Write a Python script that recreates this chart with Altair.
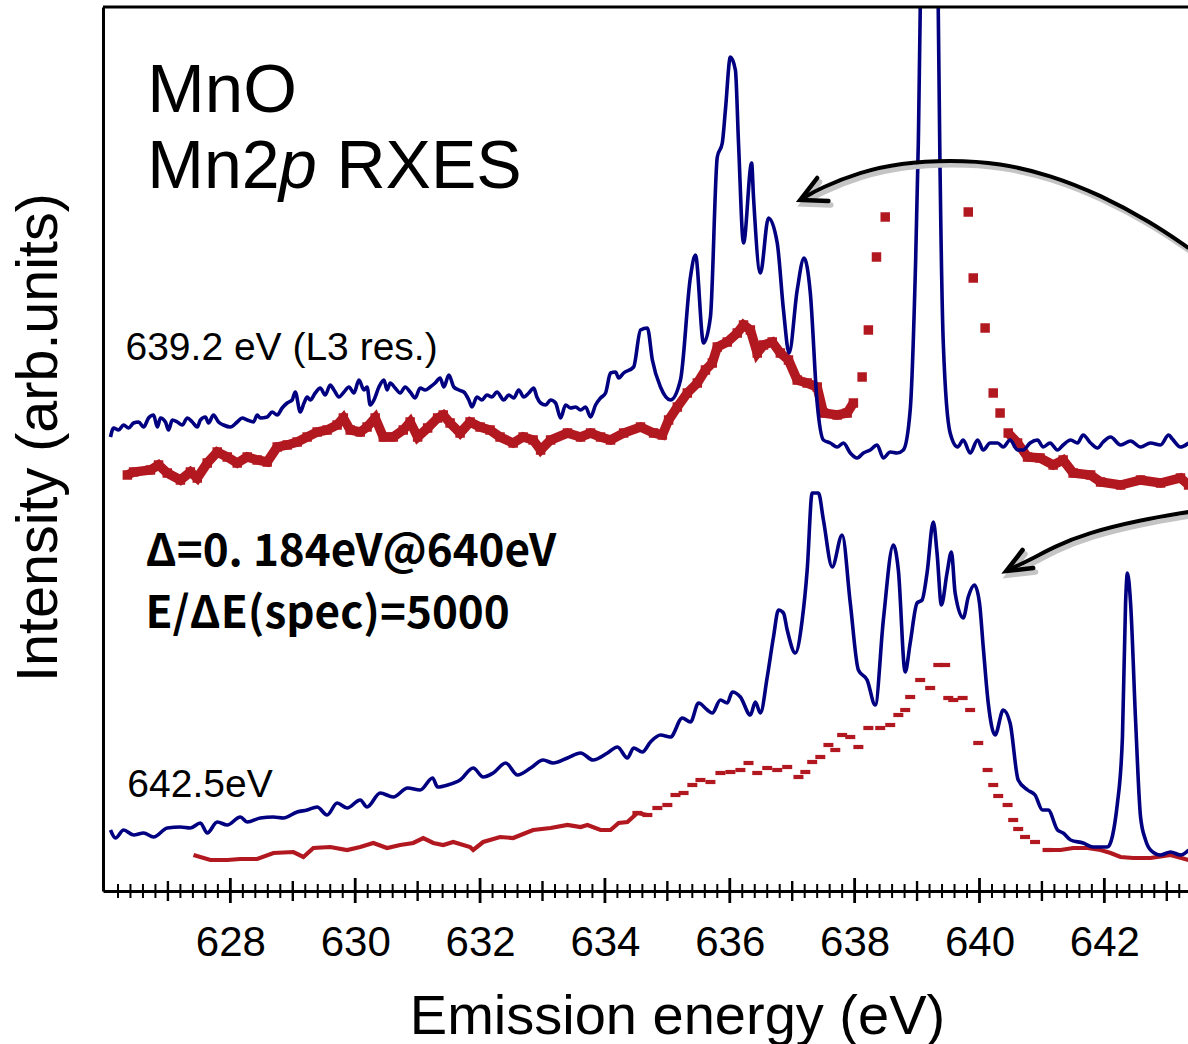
import altair as alt
import pandas as pd
import numpy as np

# ---------------- data ----------------
# upper pair: excitation 639.2 eV (L3 resonance)
ub_E = [626.08, 626.13, 626.21, 626.29, 626.37, 626.45, 626.53, 626.61, 626.69, 626.77,
        626.83, 626.88, 626.96, 627.01, 627.07, 627.15, 627.23, 627.31, 627.39, 627.47,
        627.52, 627.60, 627.65, 627.73, 627.81, 627.89, 628.00, 628.11, 628.19, 628.27,
        628.37, 628.43, 628.48, 628.59, 628.67, 628.75, 628.83, 628.91, 628.99, 629.04,
        629.12, 629.18, 629.23, 629.28, 629.36, 629.44, 629.52, 629.60, 629.66, 629.74,
        629.82, 629.90, 629.98, 630.06, 630.14, 630.19, 630.24, 630.30, 630.38, 630.46,
        630.51, 630.56, 630.64, 630.72, 630.80, 630.88, 630.96, 631.04, 631.12, 631.20,
        631.28, 631.36, 631.42, 631.50, 631.58, 631.66, 631.74, 631.82, 631.87, 631.95,
        632.03, 632.11, 632.19, 632.27, 632.38, 632.46, 632.54, 632.62, 632.70, 632.78,
        632.86, 632.91, 632.97, 633.05, 633.13, 633.21, 633.29, 633.37, 633.45, 633.53,
        633.61, 633.69, 633.77, 633.85, 633.93, 634.01, 634.09, 634.17, 634.22,
        634.30, 634.46, 634.57, 634.68, 634.76, 634.89, 635.05, 635.21, 635.37, 635.45,
        635.58, 635.69, 635.80, 635.88, 635.93, 636.01, 636.09, 636.14, 636.22, 636.35,
        636.38, 636.49, 636.62, 636.76, 636.86, 636.95, 637.08, 637.19, 637.29, 637.40,
        637.50, 637.61, 637.72, 637.82, 637.93, 638.04, 638.14, 638.25, 638.36, 638.46,
        638.57, 638.68, 638.78, 638.89, 638.97, 639.02, 639.05, 639.10, 639.20, 639.30,
        639.34, 639.37, 639.42, 639.53, 639.65, 639.74, 639.85, 639.97, 640.06, 640.17,
        640.29, 640.38, 640.49, 640.61, 640.70, 640.81, 640.93, 641.02, 641.13, 641.25,
        641.34, 641.46, 641.57, 641.66, 641.78, 641.89, 641.98, 642.10, 642.26, 642.42,
        642.58, 642.74, 642.90, 643.03, 643.09, 643.22, 643.35]
ub_I = [454, 463, 461, 466, 463, 468, 469, 464, 473, 476,
        464, 473, 469, 461, 471, 469, 466, 473, 469, 464,
        471, 474, 468, 476, 469, 466, 464, 469, 473, 471,
        469, 476, 473, 474, 479, 476, 483, 488, 491, 499,
        479, 488, 494, 491, 498, 503, 496, 506, 501, 494,
        499, 504, 498, 511, 501, 504, 486, 491, 504, 511,
        501, 508, 503, 498, 504, 499, 493, 503, 501, 504,
        508, 513, 504, 516, 504, 501, 499, 491, 484, 494,
        491, 496, 494, 499, 491, 496, 493, 501, 494, 498,
        503, 494, 488, 486, 491, 488, 473, 486, 483, 484,
        481, 484, 474, 486, 493, 498, 518, 519, 513,
        518, 524, 561, 563, 531, 504, 491, 511, 614, 636,
        548, 574, 734, 748, 781, 834, 821, 748, 648, 728,
        694, 618, 673, 648, 581, 538, 601, 633, 598, 488,
        451, 448, 444, 448, 438, 433, 438, 441, 446, 433,
        439, 438, 441, 481, 614, 748, 878, 1300, 3000, 1300,
        878, 714, 548, 458, 444, 451, 438, 451, 441, 448,
        448, 444, 451, 441, 441, 448, 451, 444, 448, 441,
        446, 451, 448, 456, 448, 443, 449, 454, 446, 450,
        444, 448, 446, 456, 452, 444, 448]

ur_E = [626.35, 626.45, 626.72, 626.85, 626.99, 627.20, 627.36, 627.47, 627.63, 627.79,
        627.95, 628.11, 628.27, 628.43, 628.59, 628.75, 628.91, 629.07, 629.23, 629.39,
        629.55, 629.71, 629.81, 629.92, 630.08, 630.19, 630.32, 630.45, 630.61, 630.77,
        630.88, 631.00, 631.16, 631.32, 631.41, 631.52, 631.68, 631.84, 632.00, 632.16,
        632.32, 632.53, 632.69, 632.85, 632.97, 633.13, 633.40, 633.61, 633.77, 633.93,
        634.09, 634.30, 634.57, 634.78, 634.92, 635.02, 635.16, 635.32, 635.48, 635.61,
        635.72, 635.80, 635.96, 636.12, 636.22, 636.33, 636.44, 636.54, 636.68, 636.81,
        636.94, 637.08, 637.24, 637.40, 637.50, 637.72, 637.88, 637.98,
        638.12, 638.22, 638.35, 638.49, 639.82, 639.90, 640.09, 640.22, 640.33,
        640.46, 640.61, 640.77, 640.97, 641.18, 641.34, 641.50, 641.78, 641.94, 642.26,
        642.58, 642.90, 643.22, 643.35]
ur_I = [416, 419, 421, 426, 418, 411, 419, 413, 428, 439,
        434, 428, 434, 431, 429, 444, 446, 449, 454, 459,
        461, 466, 473, 461, 459, 464, 473, 454, 454, 461,
        469, 454, 463, 473, 476, 468, 458, 469, 464, 461,
        454, 448, 454, 451, 441, 451, 458, 454, 458, 454,
        451, 458, 464, 458, 456, 471, 484, 498, 508, 521,
        528, 544, 549, 558, 566, 561, 538, 546, 549, 538,
        531, 511, 508, 504, 478, 476, 478, 488,
        514, 561, 634, 674, 679, 613, 563, 498, 478,
        458, 448, 434, 433, 426, 431, 418, 416, 409, 406,
        411, 408, 413, 406]

# lower pair: excitation 642.5 eV
lb_E = [626.08, 626.16, 626.29, 626.45, 626.61, 626.77, 626.99, 627.20, 627.36, 627.52,
        627.63, 627.79, 627.95, 628.16, 628.27, 628.48, 628.69, 628.85, 629.07, 629.23,
        629.39, 629.55, 629.71, 629.87, 630.08, 630.19, 630.40, 630.61, 630.84, 631.04,
        631.24, 631.32, 631.48, 631.68, 631.89, 632.05, 632.21, 632.41, 632.60, 632.81,
        633.01, 633.17, 633.40, 633.61, 633.81, 634.04, 634.20, 634.36, 634.46, 634.60,
        634.73, 634.89, 635.05, 635.24, 635.37, 635.50, 635.64, 635.72, 635.85, 635.96,
        636.04, 636.17, 636.33, 636.41, 636.49, 636.60, 636.70, 636.78, 636.86, 636.92,
        637.05, 637.16, 637.24, 637.32, 637.42, 637.50, 637.64, 637.80, 637.93, 638.06,
        638.20, 638.33, 638.46, 638.62, 638.70, 638.81, 638.89, 639.00, 639.08, 639.16,
        639.26, 639.32, 639.39, 639.48, 639.55, 639.61, 639.74, 639.82, 639.92, 640.00,
        640.06, 640.14, 640.25, 640.38, 640.49, 640.62, 640.77, 640.89, 641.01, 641.10,
        641.25, 641.34, 641.46, 641.66, 641.82, 642.05, 642.21, 642.29, 642.34, 642.37,
        642.42, 642.50, 642.58, 642.66, 642.74, 642.90, 643.06, 643.22, 643.35]
lb_I = [61, 53, 61, 56, 58, 54, 63, 64, 63, 68,
        58, 69, 66, 74, 69, 73, 74, 73, 79, 81,
        84, 76, 88, 83, 91, 84, 98, 94, 103, 101,
        113, 104, 106, 111, 123, 114, 118, 128, 116, 123,
        131, 128, 133, 138, 131, 138, 144, 133, 143, 139,
        149, 156, 154, 173, 169, 188, 181, 178, 191, 188,
        199, 194, 176, 189, 178, 214, 254, 281, 278, 261,
        238, 271, 321, 398, 398, 371, 324, 356, 288, 221,
        211, 186, 271, 346, 321, 219, 248, 288, 291, 318,
        369, 338, 286, 318, 339, 298, 273, 294, 306, 288,
        244, 188, 156, 181, 168, 111, 101, 96, 81, 81,
        61, 58, 51, 48, 44, 44, 88, 154, 288, 318,
        288, 171, 74, 51, 41, 36, 39, 36, 41]

lr_E = [627.41, 627.68, 627.95, 628.16, 628.43, 628.69, 629.01, 629.17, 629.33, 629.60,
        629.87, 630.08, 630.29, 630.51, 630.72, 630.93, 631.09, 631.25, 631.41, 631.57,
        631.84, 631.89, 632.05, 632.32, 632.53, 632.65, 632.85, 633.13, 633.40, 633.61,
        633.72, 633.93, 634.09, 634.22, 634.36, 634.52, 634.68, 634.84, 635.00, 635.13,
        635.26, 635.40, 635.53, 635.69, 635.85, 636.01, 636.17, 636.30, 636.44, 636.60,
        636.76, 636.92, 637.10, 637.21, 637.32, 637.45, 637.58, 637.69, 637.80, 637.93,
        638.06, 638.22, 638.41, 638.57, 638.70, 638.81, 638.89, 639.05, 639.21, 639.34,
        639.45, 639.50, 639.58, 639.73, 639.85, 639.98, 640.13, 640.22, 640.30, 640.45,
        640.54, 640.62, 640.73, 640.89, 641.09, 641.30, 641.50, 641.73, 641.94, 642.10,
        642.26, 642.46, 642.74, 643.06, 643.35]
lr_I = [36, 31, 31, 32, 32, 38, 39, 34, 43, 44,
        41, 44, 48, 43, 46, 48, 53, 48, 46, 49,
        44, 41, 49, 54, 53, 56, 61, 63, 66, 64,
        66, 61, 61, 68, 69, 78, 76, 83, 86, 96,
        98, 106, 111, 109, 118, 119, 121, 128, 118, 123,
        121, 124, 114, 119, 129, 134, 146, 141, 156, 154,
        144, 163, 163, 166, 176, 181, 194, 211, 203, 226,
        226, 193, 191, 193, 181, 148, 121, 106, 95, 86,
        71, 62, 54, 49, 41, 41, 43, 43, 41, 38,
        34, 33, 33, 36, 31]

# curved arrows (annotation)
ua_E = [637.18, 637.45, 638.09, 638.73, 639.53, 640.33, 641.13, 641.94, 642.74, 643.35]
ua_I = [693, 703, 719, 728, 731, 728, 716, 696, 669, 643]
uh_E = [637.40, 637.13, 637.58]
uh_I = [713, 691, 690]
la_E = [640.46, 640.81, 641.18, 641.73, 642.58, 643.35]
la_I = [321, 331, 344, 358, 371, 379]
lh_E = [640.69, 640.43, 640.86]
lh_I = [341, 320, 323]

tick_major = [628, 630, 632, 634, 636, 638, 640, 642]
tick_mid = [627, 629, 631, 633, 635, 637, 639, 641, 643]
tick_minor = [v for v in (round(626 + 0.2 * k, 1) for k in range(1, 87))
              if abs(v - round(v)) > 1e-6]

# ---------------- chart ----------------
W, H = 1085, 884
BLUE = "#000080"
RED = "#b2181f"
FONT = "Liberation Sans"

xscale = alt.Scale(domain=[625.96, 643.34], nice=False, zero=False)
yscale = alt.Scale(domain=[0, 884], nice=False, zero=False)
xaxis = alt.Axis(values=tick_major, format="d", ticks=False, grid=False,
                 domainColor="black", domainWidth=3,
                 labelFont=FONT, labelFontSize=42, labelColor="black",
                 labelPadding=64, labelBaseline="alphabetic",
                 labelFlush=False, labelOverlap=False,
                 title="Emission energy (eV)", titleFont=FONT, titleFontSize=56,
                 titleFontWeight="normal", titleColor="black",
                 titleX=574, titleY=142, titleBaseline="alphabetic", titleAlign="center")
yaxis = alt.Axis(ticks=False, labels=False, grid=False,
                 domainColor="black", domainWidth=3,
                 title="Intensity (arb.units)", titleFont=FONT, titleFontSize=57.5,
                 titleFontWeight="normal", titleColor="black",
                 titleX=-47, titleY=430, titleAngle=270,
                 titleBaseline="alphabetic", titleAlign="center")


def X():
    return alt.X("E:Q", scale=xscale, axis=xaxis)


def Y():
    return alt.Y("I:Q", scale=yscale, axis=yaxis)


def df(E, I):
    return pd.DataFrame({"E": E, "I": I})


ub = df(ub_E, ub_I)
lb = df(lb_E, lb_I)
ur = df(ur_E, ur_I)
lr = df(lr_E, lr_I)

ur_line = ur[(ur.E <= 637.99) | (ur.E >= 640.45)].copy()
ur_line["seg"] = np.where(ur_line.E < 639, "a", "b")

lr_line = lr[(lr.E <= 634.7) | (lr.E >= 641.0)].copy()
lr_line["seg"] = np.where(lr_line.E < 639, "a", "b")
lr_pts = lr[(lr.E >= 634.5) & (lr.E <= 641.1)]

layers = []

# upper red (square markers forming a band)
layers.append(alt.Chart(ur_line).mark_line(color=RED, strokeWidth=9.5, clip=True)
              .encode(x=X(), y=Y(), detail="seg:N"))
layers.append(alt.Chart(ur).mark_square(color=RED, size=90, opacity=1, clip=True)
              .encode(x=X(), y=Y()))
# lower red (dash markers)
layers.append(alt.Chart(lr_line).mark_line(color=RED, strokeWidth=4.2, clip=True)
              .encode(x=X(), y=Y(), detail="seg:N"))
layers.append(alt.Chart(lr_pts).mark_point(shape="M -1 -0.42 L 1 -0.42 L 1 0.42 L -1 0.42 Z",
                                           filled=True, color=RED, size=100, opacity=1, clip=True)
              .encode(x=X(), y=Y()))
# blue lines
for d in (ub, lb):
    layers.append(alt.Chart(d).mark_line(color=BLUE, strokeWidth=3.6, interpolate="monotone",
                                         strokeJoin="round", clip=True)
                  .encode(x=X(), y=Y()))

# curved arrows with a soft shadow
arcs = pd.concat([df(ua_E, ua_I).assign(k="u"), df(la_E, la_I).assign(k="l")])
heads = pd.concat([df(uh_E, uh_I).assign(k="u", o=[0, 1, 2]),
                   df(lh_E, lh_I).assign(k="l", o=[0, 1, 2])])
for col, off, sw in (("#c4c4c4", 4, 5), ("black", 0, 4)):
    layers.append(alt.Chart(arcs).mark_line(color=col, strokeWidth=sw, interpolate="basis",
                                            xOffset=off * 0.6, yOffset=off, clip=True)
                  .encode(x=X(), y=Y(), detail="k:N"))
    layers.append(alt.Chart(heads).mark_line(color=col, strokeWidth=sw + 0.5, strokeCap="round",
                                             strokeJoin="miter", xOffset=off * 0.6, yOffset=off,
                                             clip=True)
                  .encode(x=X(), y=Y(), detail="k:N", order="o:Q"))

# axis ticks (three levels, crossing the axis line)
for vals, y1, y2, sw in ((tick_minor, 877, 891, 2), (tick_mid, 874, 894, 2.4),
                         (tick_major, 871, 896, 2.8)):
    layers.append(alt.Chart(pd.DataFrame({"E": vals})).mark_rule(color="black", strokeWidth=sw)
                  .encode(x=X(), y=alt.value(y1), y2=alt.value(y2)))

# top frame line
layers.append(alt.Chart(pd.DataFrame({"E": [0]})).mark_rule(color="black", strokeWidth=3)
              .encode(x=alt.value(0), x2=alt.value(W), y=alt.value(0)))


# annotations
def label(E, I, txt, size, font=FONT, style="normal", weight="normal"):
    return (alt.Chart(pd.DataFrame({"E": [E], "I": [I], "t": [txt]}))
            .mark_text(align="left", baseline="alphabetic", font=font, fontSize=size,
                       fontStyle=style, fontWeight=weight, color="black")
            .encode(x=X(), y=Y(), text="t:N"))


layers.append(label(626.67, 779, "MnO", 69))
layers.append(label(626.67, 703, "Mn2", 68))
layers.append(label(628.78, 703, "p", 68, style="italic"))
layers.append(label(629.70, 703, "RXES", 68))
layers.append(label(626.32, 531, "639.2 eV (L3 res.)", 39))
layers.append(label(626.35, 94, "642.5eV", 39))
layers.append(label(626.64, 325, "Δ=0. 184eV@640eV", 44, font="Noto Sans CJK JP", weight="bold"))
layers.append(label(626.64, 263, "E/ΔE(spec)=5000", 44, font="Noto Sans CJK JP", weight="bold"))

chart = (alt.layer(*layers)
         .properties(width=W, height=H,
                     padding={"left": 103, "top": 7, "right": 0, "bottom": 153},
                     autosize=alt.AutoSizeParams(type="none"),
                     background="white")
         .configure_view(strokeWidth=0))

chart.save("out.html", embed_options={"renderer": "svg", "actions": False})
